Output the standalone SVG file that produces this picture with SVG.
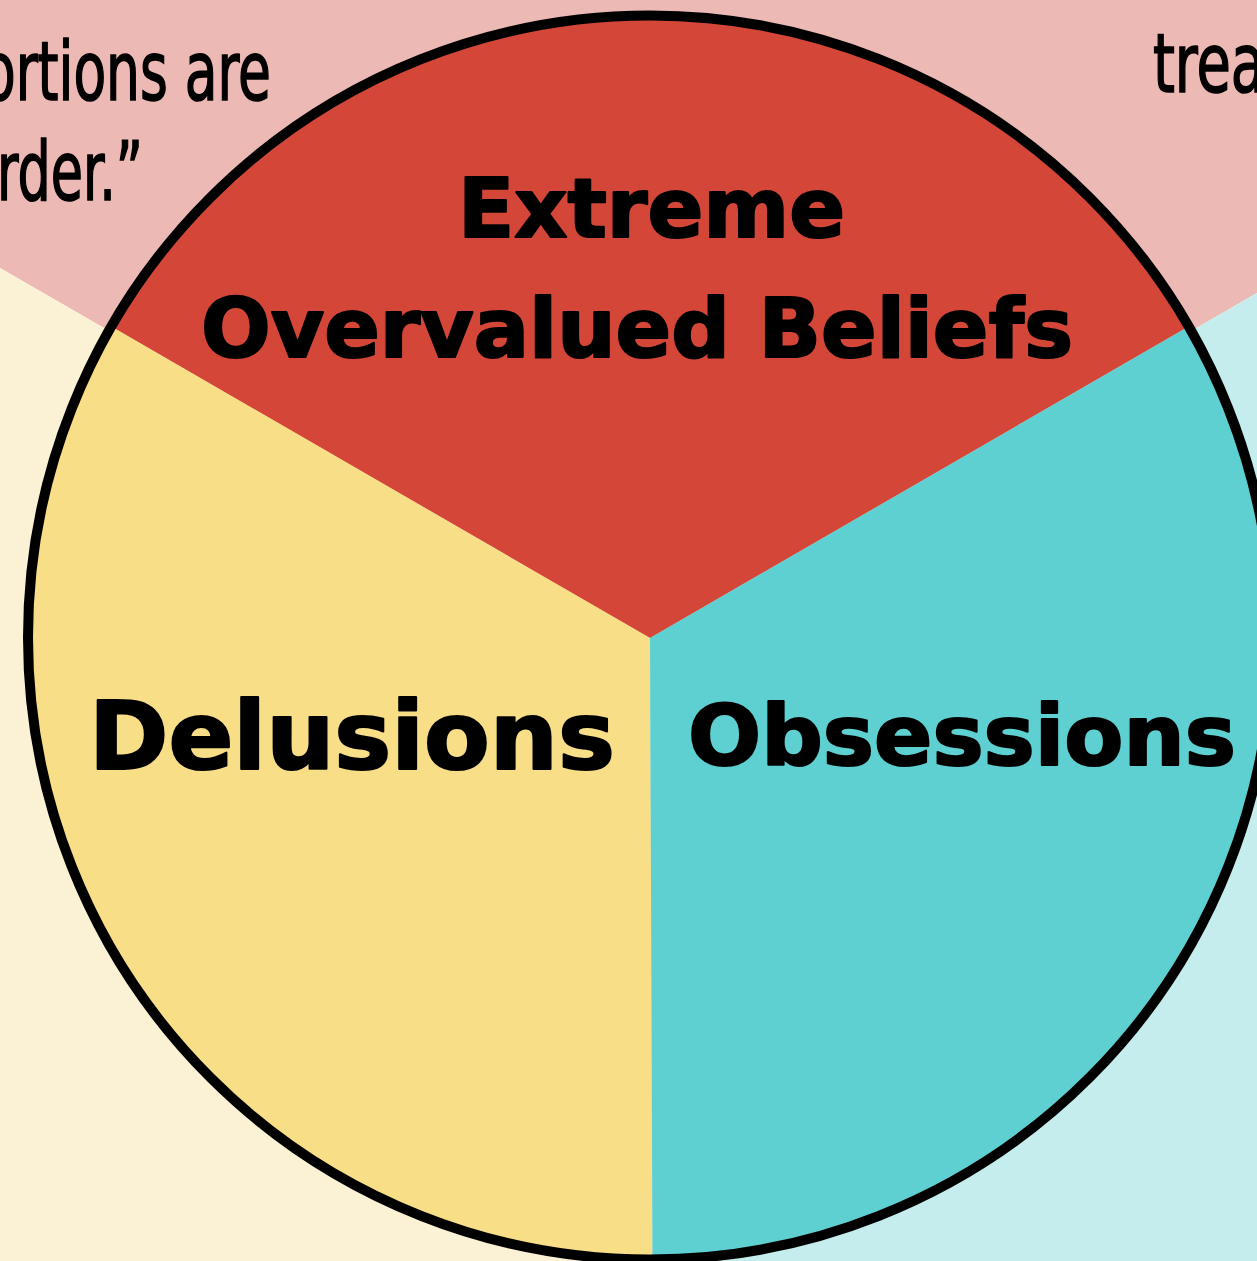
<svg xmlns="http://www.w3.org/2000/svg" width="1257" height="1261" viewBox="0 0 1257 1261">
  <style>
    .quote { font-family: "Liberation Sans Narrow", "DejaVu Sans Condensed", "Liberation Sans", sans-serif; font-size: 82px; fill: #000; stroke: #000; stroke-width: 1.6; }
    .label { font-family: "DejaVu Sans", "Liberation Sans", sans-serif; font-weight: bold; fill: #000; stroke: #000; stroke-width: 2.2; stroke-linejoin: round; text-anchor: middle; }
    .rim { fill: none; stroke: #000; stroke-width: 10; }
  </style>

  <!-- backdrop panels, one per section -->
  <g id="backdrop">
    <polygon points="0,0 1257,0 1257,293 650,643 0,268" fill="#edb9b5"/>
    <polygon points="0,268 650,643 648,1261 0,1261" fill="#fbf2d5"/>
    <polygon points="1257,293 1257,1261 648,1261 650,643" fill="#c5eded"/>
  </g>

  <!-- quote fragments in the background -->
  <g id="quote-left">
    <text class="quote" x="-17" y="100" textLength="288" lengthAdjust="spacingAndGlyphs">ortions are</text>
    <text class="quote" x="-3" y="200" textLength="146" lengthAdjust="spacingAndGlyphs">rder.”</text>
  </g>
  <g id="quote-right">
    <text class="quote" x="1153" y="92" textLength="112" lengthAdjust="spacingAndGlyphs">trea</text>
  </g>

  <!-- wheel sections -->
  <g id="overvalued-beliefs">
    <path d="M650,638 L111.3,326.5 A622,622 0 0 1 1188.7,326.5 Z" fill="#d44638"/>
    <text class="label" x="651.5" y="237" font-size="82" textLength="387" lengthAdjust="spacingAndGlyphs">Extreme</text>
    <text class="label" x="637" y="357" font-size="82" textLength="872" lengthAdjust="spacingAndGlyphs">Overvalued Beliefs</text>
  </g>

  <g id="delusions">
    <path d="M650,638 L652.5,1259.5 A622,622 0 0 1 111.3,326.5 Z" fill="#f8df87"/>
    <text class="label" x="352" y="769" font-size="95" textLength="526" lengthAdjust="spacingAndGlyphs">Delusions</text>
  </g>

  <g id="obsessions">
    <path d="M650,638 L1188.7,326.5 A622,622 0 0 1 652.5,1259.5 Z" fill="#5fd0d1"/>
    <text class="label" x="962" y="765" font-size="84" textLength="548" lengthAdjust="spacingAndGlyphs">Obsessions</text>
  </g>

  <!-- outer rim -->
  <g id="connectors">
    <circle class="rim" cx="650" cy="637.5" r="622"/>
  </g>
</svg>
